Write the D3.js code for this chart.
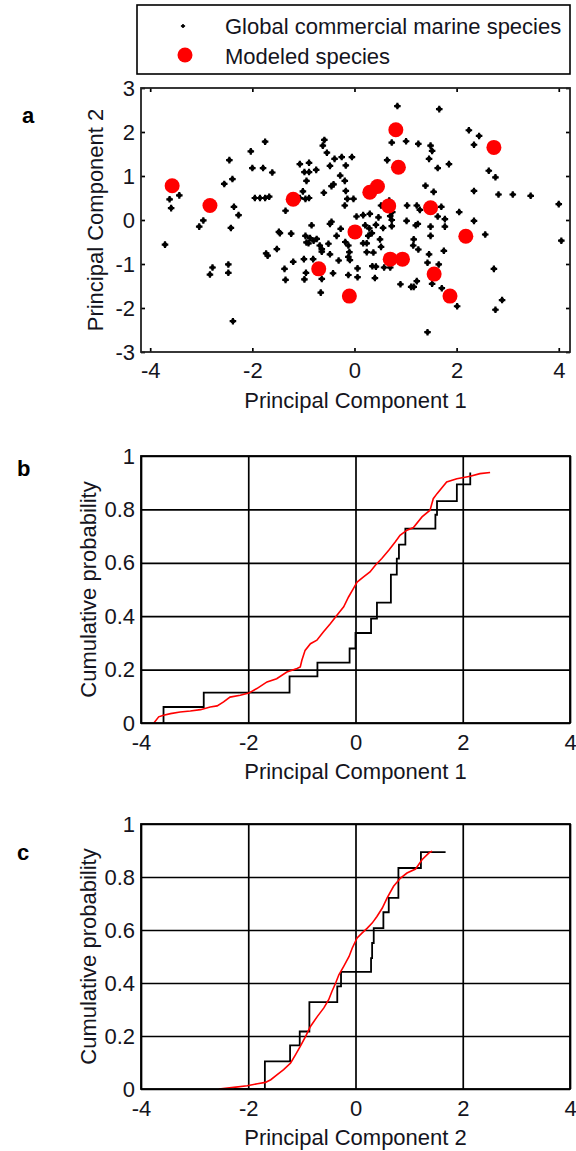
<!DOCTYPE html>
<html>
<head>
<meta charset="utf-8">
<script src="https://cdnjs.cloudflare.com/ajax/libs/d3/7.8.5/d3.min.js"></script>
<style>
body { margin: 0; background: #fff; }
svg text { font-family: "Liberation Sans", Arial, sans-serif; }
</style>
</head>
<body>
<svg id="chart" width="576" height="1151"></svg>
<script>
// global commercial marine species (black stars)
var allPC1 = [-1.75,-2.03,-2.45,-2.00,-1.79,-1.61,-2.39,-2.55,-3.43,-3.62,-3.59,-2.36,-2.27,-2.96,-3.04,-2.42,-3.71,-2.78,-2.83,-2.47,
    -2.47,-2.38,-1.95,-1.85,-1.75,-1.67,-1.35,-1.48,-1.46,-1.24,-1.73,-1.70,-1.52,-1.37,-1.35,-1.20,-0.99,-0.98,-0.95,-0.66,
    -1.07,-0.89,-0.98,-0.89,-0.75,-0.94,-1.01,-1.07,-0.96,-0.89,-0.59,-0.62,-0.54,-0.39,-0.25,-0.05,-0.48,-0.17,-0.28,-0.19,
    -0.41,-0.45,-0.60,-0.14,-0.02,-0.19,0.04,-0.45,-0.48,-0.84,-0.27,-0.35,-0.96,-0.87,-0.80,-0.74,-0.94,-0.90,-0.68,-0.64,
    -0.64,-0.51,-0.48,-0.18,-0.12,-0.10,-0.12,-0.09,-0.31,-0.42,-0.12,0.06,0.06,-0.81,-0.64,-0.17,
    0.84,1.66,2.24,2.44,2.34,0.73,1.01,1.25,1.49,1.52,1.46,0.64,1.63,1.85,2.63,2.76,2.34,2.82,3.10,3.45,
    4.00,4.05,1.39,1.55,1.03,1.22,1.70,2.05,1.63,1.77,1.77,2.34,2.56,1.49,1.49,1.24,1.20,1.02,1.16,1.15,
    1.25,1.75,1.46,1.65,1.43,2.73,0.90,1.22,1.16,1.11,1.52,1.71,2.01,2.89,2.76,1.43,0.52,0.47,0.30,0.17,
    0.70,0.73,0.56,0.73,0.21,0.29,0.34,0.50,0.52,0.27,0.24,0.17,0.24,0.37,0.58,0.70,0.35,0.42,0.40,0.68,
    0.74,1.28,0.42];
var allPC2 = [1.78,1.56,1.36,1.18,1.18,1.08,0.93,0.82,0.56,0.47,0.27,0.30,0.11,-0.01,-0.15,-0.18,-0.56,-1.08,-1.24,-1.01,
    -1.20,-2.30,0.50,0.50,0.50,0.53,0.21,-0.27,-0.30,-0.31,-0.76,-0.81,-0.66,-1.11,-1.36,-0.95,-0.89,-1.35,-1.20,-1.65,
    1.27,1.30,1.09,1.09,1.14,0.89,0.65,0.50,0.48,0.50,1.82,1.69,1.53,1.39,1.43,1.43,1.23,1.24,1.01,0.89,
    0.81,0.77,0.62,0.48,0.48,0.33,0.08,-0.04,-0.09,-0.12,-0.20,-0.36,-0.36,-0.41,-0.47,-0.43,-0.51,-0.53,-0.58,-0.66,
    -0.72,-0.54,-0.78,-0.50,-0.58,-0.73,-0.84,-0.91,-0.92,-1.21,-1.25,-1.30,-1.10,-0.89,-1.34,0.66,
    2.59,2.52,2.04,1.91,1.71,1.76,1.79,1.73,1.69,1.57,1.39,1.36,1.18,1.27,1.12,0.97,0.66,0.58,0.58,0.55,
    0.36,-0.47,0.78,0.64,0.33,0.33,0.30,0.18,0.08,0.02,-0.15,-0.02,-0.33,-0.15,-0.36,-0.09,-0.12,-0.02,-0.44,-0.58,
    -0.67,-0.70,-0.78,-1.01,-0.97,-1.11,-1.46,-1.39,-1.52,-1.52,-1.45,-1.55,-1.96,-1.82,-2.04,-2.55,0.33,0.06,0.14,0.11,
    0.09,0.00,-0.18,-0.14,-0.12,-0.19,-0.30,-0.44,-0.61,-0.36,-0.53,-0.53,-0.73,-0.74,-1.08,-1.08,-1.05,-1.06,-1.32,0.44,
    0.18,0.23,-0.11];

// modeled species (red dots)
var modPC1 = [-3.57,-2.83,-1.20,-0.70,-0.10,0.01,0.81,0.86,0.30,0.45,0.67,1.49,2.18,0.70,0.94,1.56,1.87,2.73];
var modPC2 = [0.78,0.33,0.47,-1.11,-1.73,-0.27,2.05,1.20,0.63,0.76,0.32,0.28,-0.37,-0.89,-0.89,-1.23,-1.73,1.65];

// cumulative probability, PC1: global (red) and modeled (black stairs)
var globalCdf1X = [-3.76,-3.67,-3.58,-3.45,-3.27,-3.08,-2.89,-2.71,-2.58,-2.46,-2.34,-2.15,-1.99,-1.84,-1.65,-1.47,
    -1.28,-1.09,-1.03,-1.00,-0.94,-0.84,-0.72,-0.60,-0.47,-0.35,-0.22,-0.13,-0.04,0.03,0.15,0.27,
    0.37,0.49,0.62,0.74,0.83,0.96,1.08,1.24,1.39,1.45,1.52,1.70,1.89,2.14,2.32,2.51];
var globalCdf1Y = [0,0.023,0.029,0.035,0.041,0.045,0.050,0.060,0.064,0.079,0.097,0.104,0.112,0.129,0.154,0.166,
    0.191,0.204,0.210,0.235,0.272,0.297,0.310,0.341,0.372,0.403,0.435,0.472,0.503,0.528,0.547,0.566,
    0.591,0.616,0.647,0.678,0.703,0.722,0.732,0.772,0.797,0.840,0.859,0.903,0.915,0.924,0.934,0.938];
var modCdf1X = [-3.58,-3.58,-2.83,-1.23,-0.71,-0.11,0.00,0.29,0.40,0.66,0.77,0.81,0.93,1.49,1.52,1.89,2.14];
var modCdf1Y = [0,0.060,0.114,0.175,0.226,0.279,0.337,0.391,0.451,0.556,0.616,0.668,0.728,0.780,0.831,0.894,0.938];

// cumulative probability, PC2
var globalCdf2X = [-2.55,-2.27,-2.02,-1.83,-1.68,-1.58,-1.46,-1.34,-1.21,-1.12,-1.03,-0.93,-0.84,-0.71,-0.59,-0.50,
    -0.44,-0.37,-0.31,-0.22,-0.12,-0.06,0.03,0.12,0.22,0.31,0.40,0.50,0.59,0.71,0.84,0.96,1.12,1.24,1.37,1.43];
var globalCdf2Y = [0,0.006,0.012,0.020,0.025,0.035,0.054,0.073,0.098,0.129,0.161,0.199,0.236,0.274,0.306,0.337,
    0.368,0.400,0.431,0.463,0.500,0.532,0.570,0.588,0.607,0.626,0.651,0.683,0.721,0.765,0.796,0.815,0.830,0.865,0.891,0.897];
var modCdf2X = [-2.27,-1.69,-1.22,-1.04,-0.86,-0.34,-0.27,0.29,0.31,0.34,0.52,0.62,0.80,1.22,1.68];
var modCdf2Y = [0,0.104,0.165,0.217,0.328,0.387,0.442,0.494,0.551,0.607,0.667,0.721,0.834,0.894,0.894];

var xTicks = [-4, -2, 0, 2, 4];
var yTicksA = [-3, -2, -1, 0, 1, 2, 3];
var yTicksCdf = [0, 0.2, 0.4, 0.6, 0.8, 1];
var legendLabels = ["Global commercial marine species", "Modeled species"];

var svg = d3.select("#chart");
var font = "Liberation Sans, Arial, sans-serif";

function styleAxis(g) {
    g.attr("font-size", 22).attr("font-family", font);
    g.selectAll("text").attr("fill", "#141420");
    g.selectAll("line").attr("stroke", "#000").attr("stroke-width", 1.7);
    g.select(".domain").remove();
}

function plain(d) { return String(d); }

// ---------- legend ----------
var leg = svg.append("g");
leg.append("rect")
    .attr("x", 137).attr("y", 5).attr("width", 433).attr("height", 69)
    .attr("fill", "#fff").attr("stroke", "#000").attr("stroke-width", 1.6);
leg.append("path")
    .attr("transform", "translate(183,26)")
    .attr("d", d3.symbol(d3.symbolCross, 10)());
leg.append("circle").attr("cx", 183).attr("cy", 26).attr("r", 1.6);
leg.append("circle").attr("cx", 185).attr("cy", 55).attr("r", 7.5).attr("fill", "#f00");
leg.selectAll("text.lab")
    .data(legendLabels)
    .enter().append("text")
    .attr("class", "lab")
    .attr("x", 225)
    .attr("y", function(d, i) { return 34 + i * 30; })
    .attr("font-size", 22)
    .attr("fill", "#141420")
    .text(function(d) { return d; });

// ---------- panel a: scatter ----------
var boxA = {left: 141, right: 570, top: 88, bottom: 352};
var xA = d3.scaleLinear().domain([-4.18, 4.22]).range([boxA.left, boxA.right]);
var yA = d3.scaleLinear().domain([-3, 3]).range([boxA.bottom, boxA.top]);
var gA = svg.append("g");

gA.append("g").attr("transform", "translate(0," + boxA.bottom + ")")
    .call(d3.axisBottom(xA).tickValues(xTicks).tickSize(-4).tickPadding(10).tickFormat(plain))
    .call(styleAxis);
gA.append("g").attr("transform", "translate(0," + boxA.top + ")")
    .call(d3.axisTop(xA).tickValues(xTicks).tickSize(-4).tickFormat(""))
    .call(styleAxis);
gA.append("g").attr("transform", "translate(" + boxA.left + ",0)")
    .call(d3.axisLeft(yA).tickValues(yTicksA).tickSize(-4).tickPadding(6).tickFormat(plain))
    .call(styleAxis);
gA.append("g").attr("transform", "translate(" + boxA.right + ",0)")
    .call(d3.axisRight(yA).tickValues(yTicksA).tickSize(-4).tickFormat(""))
    .call(styleAxis);

var allPts = allPC1.map(function(v, i) { return {x: v, y: allPC2[i]}; });
var modPts = modPC1.map(function(v, i) { return {x: v, y: modPC2[i]}; });

var star = gA.append("g").selectAll("g")
    .data(allPts)
    .enter().append("g")
    .attr("transform", function(d) { return "translate(" + xA(d.x) + "," + yA(d.y) + ")"; });
star.append("path").attr("d", d3.symbol(d3.symbolCross, 24)()).attr("fill", "#000");
star.append("circle").attr("r", 2.3).attr("fill", "#000");

gA.append("g").selectAll("circle")
    .data(modPts)
    .enter().append("circle")
    .attr("cx", function(d) { return xA(d.x); })
    .attr("cy", function(d) { return yA(d.y); })
    .attr("r", 7.5)
    .attr("fill", "#f00");

gA.append("rect")
    .attr("x", boxA.left).attr("y", boxA.top)
    .attr("width", boxA.right - boxA.left).attr("height", boxA.bottom - boxA.top)
    .attr("fill", "none").attr("stroke", "#222").attr("stroke-width", 1.8);

gA.append("text")
    .attr("x", (boxA.left + boxA.right) / 2).attr("y", boxA.bottom + 56)
    .attr("text-anchor", "middle").attr("font-size", 22).attr("fill", "#141420")
    .text("Principal Component 1");
gA.append("text")
    .attr("transform", "translate(103," + (boxA.top + boxA.bottom) / 2 + ") rotate(-90)")
    .attr("text-anchor", "middle").attr("font-size", 22).attr("fill", "#141420")
    .text("Principal Component 2");

// ---------- panels b, c: cumulative probability ----------
function drawCdf(box, gx, gy, mx, my, xLabel) {
    var x = d3.scaleLinear().domain([-4, 4]).range([box.left, box.right]);
    var y = d3.scaleLinear().domain([0, 1]).range([box.bottom, box.top]);
    var g = svg.append("g");
    var h = box.bottom - box.top;
    var w = box.right - box.left;

    g.append("g").attr("transform", "translate(0," + box.bottom + ")")
        .call(d3.axisBottom(x).tickValues(xTicks).tickSize(-h).tickPadding(11).tickFormat(plain))
        .call(styleAxis);
    g.append("g").attr("transform", "translate(" + box.left + ",0)")
        .call(d3.axisLeft(y).tickValues(yTicksCdf).tickSize(-w).tickPadding(6).tickFormat(plain))
        .call(styleAxis);

    var line = d3.line()
        .x(function(d) { return x(d[0]); })
        .y(function(d) { return y(d[1]); });

    g.append("path")
        .datum(mx.map(function(v, i) { return [v, my[i]]; }))
        .attr("d", line.curve(d3.curveStepAfter))
        .attr("fill", "none").attr("stroke", "#000").attr("stroke-width", 1.8);

    g.append("path")
        .datum(gx.map(function(v, i) { return [v, gy[i]]; }))
        .attr("d", line.curve(d3.curveLinear))
        .attr("fill", "none").attr("stroke", "#f00").attr("stroke-width", 1.6);

    g.append("rect")
        .attr("x", box.left).attr("y", box.top).attr("width", w).attr("height", h)
        .attr("fill", "none").attr("stroke", "#000").attr("stroke-width", 1.8);

    g.append("text")
        .attr("x", (box.left + box.right) / 2).attr("y", box.bottom + 56)
        .attr("text-anchor", "middle").attr("font-size", 22).attr("fill", "#141420")
        .text(xLabel);
    g.append("text")
        .attr("transform", "translate(96," + (box.top + box.bottom) / 2 + ") rotate(-90)")
        .attr("text-anchor", "middle").attr("font-size", 22).attr("fill", "#141420")
        .text("Cumulative probability");
}

drawCdf({left: 141, right: 570, top: 456, bottom: 723},
    globalCdf1X, globalCdf1Y, modCdf1X, modCdf1Y, "Principal Component 1");
drawCdf({left: 141, right: 570, top: 824, bottom: 1089},
    globalCdf2X, globalCdf2Y, modCdf2X, modCdf2Y, "Principal Component 2");

// panel letters
svg.selectAll("text.panel")
    .data([["a", 22, 123], ["b", 17, 476], ["c", 17, 860]])
    .enter().append("text")
    .attr("class", "panel")
    .attr("x", function(d) { return d[1]; })
    .attr("y", function(d) { return d[2]; })
    .attr("font-family", "Liberation Serif, Times New Roman, serif")
    .attr("font-weight", "bold")
    .attr("font-size", 22)
    .attr("fill", "#000")
    .text(function(d) { return d[0]; });
</script>
</body>
</html>
